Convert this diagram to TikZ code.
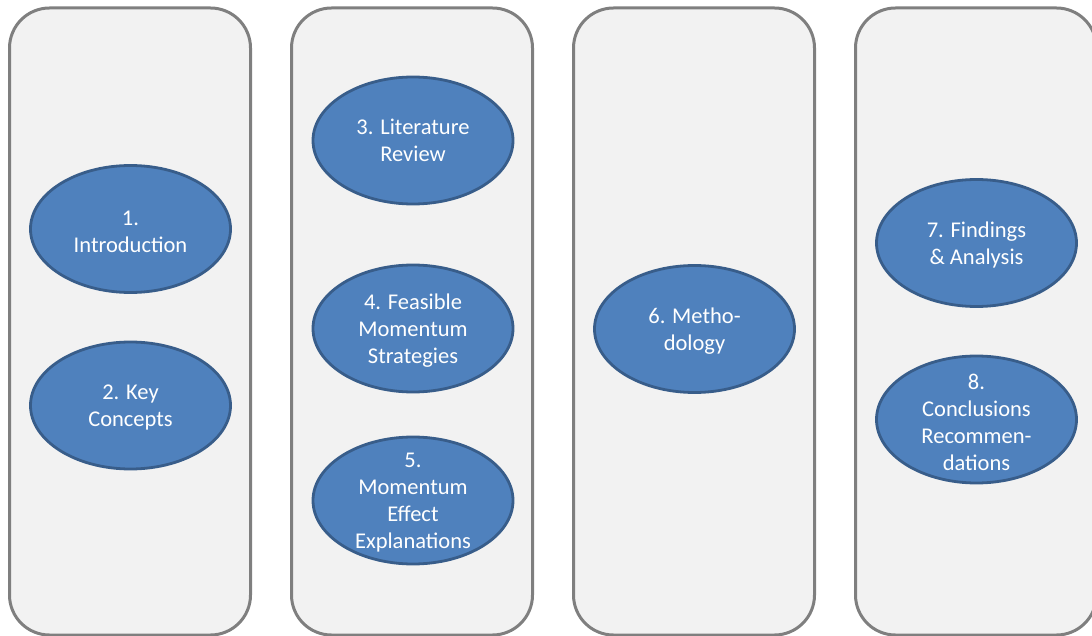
\documentclass[tikz,border=0pt]{standalone}
\usepackage{fontspec}
\setmainfont{Carlito}
\usetikzlibrary{shapes.geometric}
\definecolor{panelfill}{HTML}{F2F2F2}
\definecolor{panelline}{HTML}{7F7F7F}
\definecolor{bubblefill}{HTML}{4F81BD}
\definecolor{bubbleline}{HTML}{385D8A}
\tikzset{
  panel/.style={draw=panelline, fill=panelfill, line width=3pt, rounded corners=40pt},
  bubble/.style={ellipse, draw=bubbleline, fill=bubblefill, line width=2.8pt,
    minimum width=200pt, minimum height=127pt, inner sep=0pt},
  bubbletext/.style={text=white, align=center, inner sep=0pt, yshift=-2.5pt,
    font=\fontsize{22.5}{27}\selectfont}
}
\begin{document}
\begin{tikzpicture}[x=1pt, y=-1pt]
  \useasboundingbox (0,0) rectangle (1092,636);
  \clip (0,0) rectangle (1092,636);

  % four column panels
  \draw[panel] (9.5,8) rectangle (250.5,635);
  \draw[panel] (291.5,8) rectangle (532.5,635);
  \draw[panel] (573.5,8) rectangle (814.5,635);
  \draw[panel] (855.5,8) rectangle (1096.5,635);

  % chapter bubbles
  \node[bubble] (b1) at (130.5,229) {};
  \node[bubbletext] (t1) at (b1) {1.\\Introduction};
  \node[bubble] (b2) at (130.5,405.5) {};
  \node[bubbletext] (t2) at (b2) {2. Key\\Concepts};

  \node[bubble] (b3) at (413,140.5) {};
  \node[bubbletext, yshift=3pt] (t3) at (b3) {3. Literature\\Review};
  \node[bubble] (b4) at (413,328.5) {};
  \node[bubbletext] (t4) at (b4) {4. Feasible\\Momentum\\Strategies};
  \node[bubble] (b5) at (413,500.5) {};
  \node[bubbletext] (t5) at (b5) {5.\\Momentum\\Effect\\Explanations};

  \node[bubble] (b6) at (694.5,329) {};
  \node[bubbletext] (t6) at (b6) {6. Metho-\\dology};

  \node[bubble] (b7) at (976.5,243) {};
  \node[bubbletext] (t7) at (b7) {7. Findings\\\& Analysis};
  \node[bubble] (b8) at (976.5,419.5) {};
  \node[bubbletext] (t8) at (b8) {8.\\Conclusions\\Recommen-\\dations};
\end{tikzpicture}
\end{document}
